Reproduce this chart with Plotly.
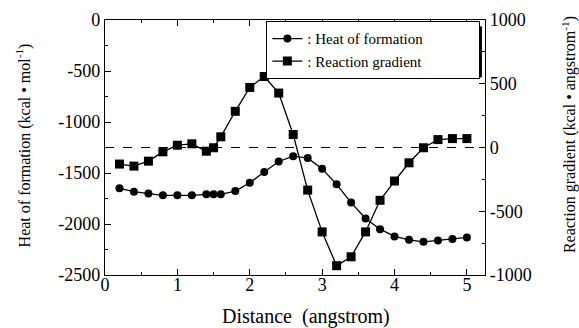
import plotly.graph_objects as go

# ---- data ----
distance = [0.2, 0.4, 0.6, 0.8, 1.0, 1.2, 1.4, 1.5, 1.6, 1.8, 2.0, 2.2, 2.4,
            2.6, 2.8, 3.0, 3.2, 3.4, 3.6, 3.8, 4.0, 4.2, 4.4, 4.6, 4.8, 5.0]
heat_of_formation = [-1650, -1683, -1702, -1719, -1719, -1719, -1709, -1709, -1709,
                     -1677, -1595, -1491, -1387, -1335, -1354, -1458, -1611, -1790,
                     -1946, -2051, -2122, -2155, -2175, -2161, -2148, -2132]
reaction_gradient = [-130, -146, -107, -34, 18, 29, -29, -2, 84, 284, 471, 557, 427,
                     102, -334, -662, -927, -857, -662, -414, -263, -120, -2, 62, 70, 70]

x_ticks = [0, 1, 2, 3, 4, 5]
x_tick_labels = ["0", "1", "2", "3", "4", "5"]
y_ticks = [0, -500, -1000, -1500, -2000, -2500]
y_tick_labels = ["0", "-500", "-1000", "-1500", "-2000", "-2500"]
y2_ticks = [1000, 500, 0, -500, -1000]
y2_tick_labels = ["1000", "500", "0", "-500", "-1000"]

x_title = "Distance  (angstrom)"
y_title = "Heat of formation (kcal • mol<sup>-1</sup>)"
y2_title = "Reaction gradient (kcal • angstrom<sup>-1</sup>)"

SERIF = "Liberation Serif, Times New Roman, serif"

fig = go.Figure()
fig.add_trace(go.Scatter(
    x=distance, y=heat_of_formation, mode="lines+markers",
    name=": Heat of formation",
    line=dict(color="black", width=1.3),
    marker=dict(symbol="circle", size=8, color="black"),
    yaxis="y"))
fig.add_trace(go.Scatter(
    x=distance, y=reaction_gradient, mode="lines+markers",
    name=": Reaction gradient",
    line=dict(color="black", width=1.3),
    marker=dict(symbol="square", size=9, color="black"),
    yaxis="y2"))

# dashed zero line of reaction gradient
fig.add_shape(type="line", xref="paper", x0=0, x1=1, yref="y2", y0=0, y1=0,
              line=dict(color="black", width=1, dash="dash"))

# legend drop shadow (right and bottom edges)
fig.add_shape(type="line", xref="paper", yref="paper", layer="above",
              x0=0.988, x1=0.988, y0=0.975, y1=0.776,
              line=dict(color="black", width=3))
fig.add_shape(type="line", xref="paper", yref="paper", layer="above",
              x0=0.44, x1=0.988, y0=0.778, y1=0.778,
              line=dict(color="black", width=3))

# axis titles as annotations
fig.add_annotation(text=x_title, xref="paper", yref="paper", x=0.53, y=-0.162,
                   xanchor="center", yanchor="middle", showarrow=False,
                   font=dict(family=SERIF, size=20, color="black"))
fig.add_annotation(text=y_title, xref="paper", yref="paper", x=-0.212, y=0.51,
                   xanchor="center", yanchor="middle", showarrow=False, textangle=-90,
                   font=dict(family=SERIF, size=16, color="black"))
fig.add_annotation(text=y2_title, xref="paper", yref="paper", x=1.222, y=0.55,
                   xanchor="center", yanchor="middle", showarrow=False, textangle=-90,
                   font=dict(family=SERIF, size=16, color="black"))

axis_common = dict(showline=True, linecolor="black", linewidth=1.3,
                   ticks="inside", ticklen=6, tickcolor="black", tickwidth=1,
                   showgrid=False, zeroline=False, automargin=False,
                   tickfont=dict(family=SERIF, size=18, color="black"))

fig.update_layout(
    width=579, height=328,
    margin=dict(l=105, r=94, t=20, b=53),
    paper_bgcolor="white", plot_bgcolor="white",
    font=dict(family=SERIF, color="black"),
    showlegend=True,
    legend=dict(x=0.987, y=0.996, xanchor="right", yanchor="top",
                orientation="h",
                bgcolor="white", bordercolor="black", borderwidth=1.3,
                font=dict(family=SERIF, size=15, color="black"),
                tracegroupgap=0, itemwidth=30,
                entrywidth=166, entrywidthmode="pixels"),
    xaxis=dict(range=[0, 5.25], tickvals=x_ticks, ticktext=x_tick_labels,
               mirror="ticks", ticklabelstandoff=-7,
               minor=dict(dtick=0.5, ticks="inside", ticklen=3, tickcolor="black"),
               **axis_common),
    yaxis=dict(range=[-2500, 0], tickvals=y_ticks, ticktext=y_tick_labels,
               minor=dict(dtick=250, ticks="inside", ticklen=3, tickcolor="black"),
               **axis_common),
    yaxis2=dict(range=[-1000, 1000], tickvals=y2_ticks, ticktext=y2_tick_labels,
                overlaying="y", side="right",
                minor=dict(dtick=250, ticks="inside", ticklen=3, tickcolor="black"),
                **axis_common),
)

fig.write_html("out.html")
